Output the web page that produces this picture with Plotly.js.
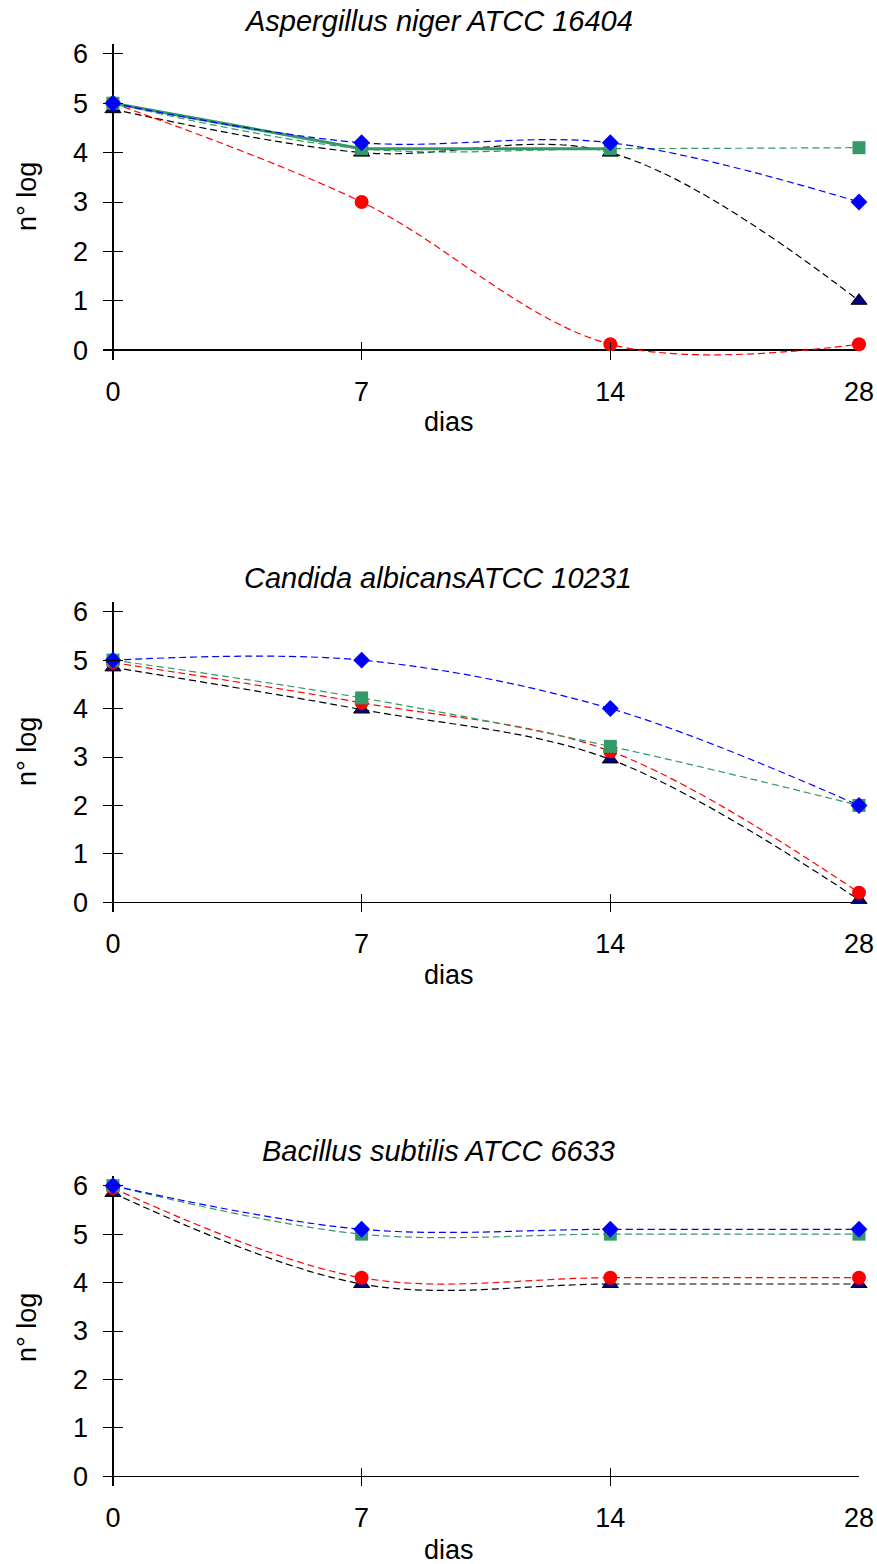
<!DOCTYPE html>
<html>
<head>
<meta charset="utf-8">
<script src="https://cdn.plot.ly/plotly-3.0.1.min.js"></script>
<style>
  html, body { margin: 0; padding: 0; background: #fff; }
  #chart { width: 877px; height: 1564px; }
</style>
</head>
<body>
<div id="chart"></div>
<script>
// Sampling days (drawn as evenly spaced positions)
const days = ['0', '7', '14', '28'];
const dayPos = [0, 1, 2, 3];

// Aspergillus niger ATCC 16404
const nigerRed   = [5.0, 3.0, 0.12, 0.12];
const nigerGreen = [5.0, 4.08, 4.08, 4.1];
const nigerBlue  = [5.0, 4.2, 4.2, 3.0];
const nigerBlack = [4.88, 4.0, 4.0, 1.0];

// Candida albicans ATCC 10231
const candRed   = [4.95, 4.12, 3.12, 0.2];
const candGreen = [5.0, 4.22, 3.22, 2.0];
const candBlue  = [5.0, 5.0, 4.0, 2.0];
const candBlack = [4.85, 3.98, 2.95, 0.05];

// Bacillus subtilis ATCC 6633
const bacRed   = [5.95, 4.1, 4.1, 4.1];
const bacGreen = [6.0, 5.0, 5.0, 5.0];
const bacBlue  = [6.0, 5.1, 5.1, 5.1];
const bacBlack = [5.85, 3.97, 3.97, 3.97];

const yTicks = [0, 1, 2, 3, 4, 5, 6];
const titles = ['Aspergillus niger ATCC 16404', 'Candida albicansATCC 10231', 'Bacillus subtilis ATCC 6633'];

const W = 877, H = 1564;
const FONT = 'Liberation Sans, Arial, sans-serif';
const FS = 27;
const TITLE_FS = 29;

// panel geometry in pixels: plot top / bottom edges
const panels = [
  { top: 44,   bottom: 360 },
  { top: 602,  bottom: 912 },
  { top: 1176, bottom: 1486 }
];
const left = 103, right = 859;

function py(p) { return 1 - p / H; }

const styles = {
  black: { color: '#000000', marker: { symbol: 'triangle-up', size: 14, color: '#000080', line: { color: '#000000', width: 1 } } },
  red:   { color: '#FF0000', marker: { symbol: 'circle', size: 14, color: '#FF0000' } },
  green: { color: '#339966', marker: { symbol: 'square', size: 13, color: '#339966' } },
  blue:  { color: '#0000FF', marker: { symbol: 'diamond', size: 13, color: '#0000FF' } }
};

function series(y, key, k) {
  const s = styles[key];
  return {
    x: dayPos, y: y, type: 'scatter', mode: 'lines+markers',
    xaxis: k === 1 ? 'x' : 'x' + k, yaxis: k === 1 ? 'y' : 'y' + k,
    line: { color: s.color, width: 1.2, dash: '7px,4px', shape: 'spline', smoothing: 1 },
    marker: s.marker, cliponaxis: false, showlegend: false, hoverinfo: 'x+y'
  };
}

const data = [];
const sets = [
  [nigerBlack, nigerRed, nigerGreen, nigerBlue],
  [candBlack, candRed, candGreen, candBlue],
  [bacBlack, bacRed, bacGreen, bacBlue]
];
sets.forEach((set, i) => {
  const k = i + 1;
  data.push(series(set[0], 'black', k));
  data.push(series(set[1], 'red', k));
  if (k === 1) {
    // solid segment of the green series over the first three days
    data.push({
      x: dayPos.slice(0, 3), y: nigerGreen.slice(0, 3), type: 'scatter', mode: 'lines',
      xaxis: 'x', yaxis: 'y', line: { color: '#339966', width: 3 },
      showlegend: false, hoverinfo: 'skip'
    });
  }
  data.push(series(set[2], 'green', k));
  data.push(series(set[3], 'blue', k));
});

const layout = {
  width: W, height: H,
  margin: { l: 0, r: 0, t: 0, b: 0 },
  paper_bgcolor: '#ffffff', plot_bgcolor: '#ffffff',
  font: { family: FONT, size: FS, color: '#000' },
  showlegend: false,
  annotations: []
};

panels.forEach((p, i) => {
  const k = i + 1;
  const xa = k === 1 ? 'xaxis' : 'xaxis' + k;
  const ya = k === 1 ? 'yaxis' : 'yaxis' + k;
  layout[xa] = {
    domain: [left / W, right / W],
    anchor: k === 1 ? 'y' : 'y' + k,
    range: [-0.04, 3],
    tickmode: 'array', tickvals: dayPos, ticktext: days,
    ticks: 'inside', ticklen: 18, tickwidth: 1, tickcolor: '#000',
    ticklabelstandoff: 13,
    showgrid: false, showline: false,
    zeroline: true, zerolinecolor: '#000', zerolinewidth: 1.3,
    tickfont: { family: FONT, size: FS, color: '#000' },
    fixedrange: true
  };
  layout[ya] = {
    domain: [py(p.bottom), py(p.top)],
    anchor: k === 1 ? 'x' : 'x' + k,
    range: [-0.2, 6.2],
    tickmode: 'array', tickvals: yTicks,
    ticks: 'inside', ticklen: 20, tickwidth: 1, tickcolor: '#000',
    ticklabelstandoff: 14,
    showgrid: false, showline: false,
    zeroline: true, zerolinecolor: '#000', zerolinewidth: 1.3,
    tickfont: { family: FONT, size: FS, color: '#000' },
    fixedrange: true
  };
});

// chart titles and axis titles
const titleY = [21, 578, 1151];
const diasY = [422, 975, 1550];
const logY = [197, 752, 1328];
titles.forEach((t, i) => {
  layout.annotations.push({
    text: t, xref: 'paper', yref: 'paper', x: 438 / W, y: py(titleY[i]),
    xanchor: 'center', yanchor: 'middle', showarrow: false,
    font: { family: FONT, size: TITLE_FS, style: 'italic', color: '#000' }
  });
  layout.annotations.push({
    text: 'dias', xref: 'paper', yref: 'paper', x: 449 / W, y: py(diasY[i]),
    xanchor: 'center', yanchor: 'middle', showarrow: false,
    font: { family: FONT, size: FS, color: '#000' }
  });
  layout.annotations.push({
    text: 'n° log', xref: 'paper', yref: 'paper', x: 27 / W, y: py(logY[i]),
    xanchor: 'center', yanchor: 'middle', showarrow: false, textangle: -90,
    font: { family: FONT, size: FS, color: '#000' }
  });
});

Plotly.newPlot('chart', data, layout, { displayModeBar: false, staticPlot: true });
</script>
</body>
</html>
